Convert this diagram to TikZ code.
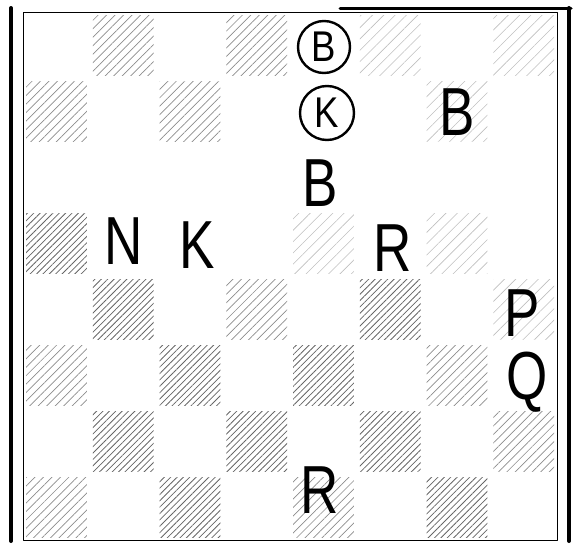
\documentclass[tikz,border=0pt]{standalone}
\usepackage{fontspec}
\setmainfont{Liberation Sans}
\usetikzlibrary{patterns.meta}

\begin{document}
\begin{tikzpicture}[x=1pt, y=-1pt, line cap=round, line join=round,
  darksq/.style={pattern={Lines[angle=45,distance=4.5pt,line width=.8pt]}, pattern color=black!60},
  midsq/.style={pattern={Lines[angle=45,distance=6pt,line width=.7pt]}, pattern color=black!45},
  faintsq/.style={pattern={Lines[angle=45,distance=8pt,line width=.6pt]}, pattern color=black!25},
  piece/.style={inner sep=0pt, font=\fontsize{68}{68}\selectfont, xscale=.78},
  ringed/.style={circle, inner sep=0pt, font=\fontsize{43}{43}\selectfont, xscale=.85},
  ring/.style={line width=2.4pt}]

  %% ════ 棋盘格（列/行/深浅）════
  \foreach \c/\r/\s in {2/1/midsq, 4/1/midsq, 6/1/faintsq, 8/1/faintsq,
                        1/2/midsq, 3/2/midsq, 7/2/faintsq,
                        1/4/darksq, 5/4/faintsq, 7/4/faintsq,
                        2/5/darksq, 4/5/midsq, 6/5/darksq, 8/5/faintsq,
                        1/6/midsq, 3/6/darksq, 5/6/darksq, 7/6/midsq,
                        2/7/darksq, 4/7/darksq, 6/7/darksq, 8/7/midsq,
                        1/8/midsq, 3/8/darksq, 5/8/midsq, 7/8/darksq}
    \fill[\s] ({23+(\c-1)*66.75+3},{12+(\r-1)*66+3}) rectangle ++(60.75,60);

  %% ════ 边框 ════
  \draw[line width=.8pt] (23,12) rectangle (557,540);
  \draw[line width=4pt] (11,8) -- (11,541);
  \draw[line width=4pt] (569,8) -- (569,541);
  \draw[line width=3pt] (340,8) -- (571,8);

  %% ════ 棋子 ════
  \node[ringed] (bB) at (324,47) {B};
  \node[ringed] (bK) at (327,113) {K};
  \draw[ring] (bB.center) ellipse (26 and 26);
  \draw[ring] (bK.center) ellipse (27 and 27);
  \node[piece] (wB1) at (457,112) {B};
  \node[piece] (wB2) at (320,183) {B};
  \node[piece] (wN) at (124,241) {N};
  \node[piece] (wK) at (197,245) {K};
  \node[piece] (wR1) at (393,248) {R};
  \node[piece] (wP) at (522,313) {P};
  \node[piece] (wQ) at (527,382) {Q};
  \node[piece] (wR2) at (320,490) {R};

  % 钉死画布
  \pgfresetboundingbox
  \path[use as bounding box] (0,0) rectangle (573,546);
\end{tikzpicture}
\end{document}
